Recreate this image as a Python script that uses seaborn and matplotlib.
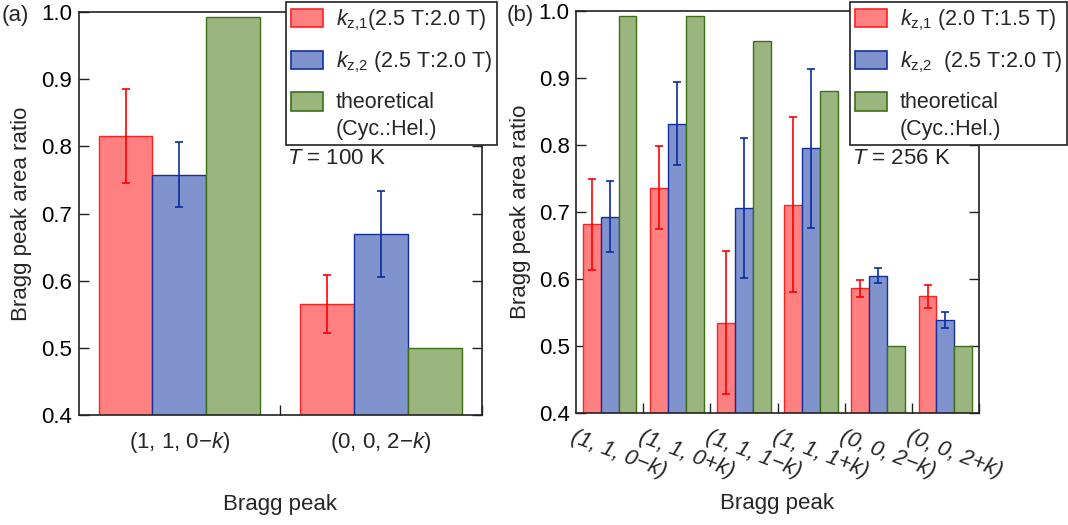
import numpy as np
import pandas as pd
import matplotlib
matplotlib.use("Agg")
import matplotlib.pyplot as plt
import matplotlib.transforms as mtransforms
from matplotlib.patches import Patch
from matplotlib.legend_handler import HandlerPatch
import seaborn as sns

# ---------------- data ----------------
peaks_a = ["(1, 1, 0−$k$)", "(0, 0, 2−$k$)"]
kz1_a = [0.815, 0.565]
kz1_a_err = [0.070, 0.043]
kz2_a = [0.758, 0.669]
kz2_a_err = [0.049, 0.064]
theo_a = [0.992, 0.500]

peaks_b = ["(1, 1, 0−k)", "(1, 1, 0+k)", "(1, 1, 1−k)",
           "(1, 1, 1+k)", "(0, 0, 2−k)", "(0, 0, 2+k)"]
kz1_b = [0.682, 0.736, 0.535, 0.711, 0.586, 0.574]
kz1_b_err = [0.068, 0.062, 0.107, 0.131, 0.013, 0.017]
kz2_b = [0.693, 0.832, 0.706, 0.795, 0.605, 0.539]
kz2_b_err = [0.053, 0.062, 0.104, 0.119, 0.011, 0.012]
theo_b = [0.992, 0.992, 0.955, 0.880, 0.500, 0.500]

series_keys = ["kz1", "kz2", "theo"]
labels_a = [r"$k_{\mathrm{z{,}1}}$(2.5 T:2.0 T)", r"$k_{\mathrm{z{,}2}}$ (2.5 T:2.0 T)",
            "theoretical\n(Cyc.:Hel.)"]
labels_b = [r"$k_{\mathrm{z{,}1}}$ (2.0 T:1.5 T)", r"$k_{\mathrm{z{,}2}}$  (2.5 T:2.0 T)",
            "theoretical\n(Cyc.:Hel.)"]
temp_a = r"$T$ = 100 K"
temp_b = r"$T$ = 256 K"
yticks = [0.4, 0.5, 0.6, 0.7, 0.8, 0.9, 1.0]

# ---------------- style ----------------
fill = {"kz1": "#ff8080", "kz2": "#8093cc", "theo": "#9bb57f"}
edge = {"kz1": "#ff2020", "kz2": "#1030a0", "theo": "#3d7015"}
errc = {"kz1": "#ff0000", "kz2": "#0a2ea0"}

sns.set_style("ticks")
plt.rcParams["font.family"] = ["Liberation Sans", "DejaVu Sans"]
plt.rcParams["mathtext.fontset"] = "custom"
plt.rcParams["mathtext.rm"] = "Liberation Sans"
plt.rcParams["mathtext.it"] = "Liberation Sans:italic"
plt.rcParams["mathtext.bf"] = "Liberation Sans:bold"
FS = 16
LFS = 15.5
LSP = 1.38

W, H = 1068, 525
fig = plt.figure(figsize=(W / 100, H / 100), dpi=100)


def frac_rect(l, r, t, b):
    return [l / W, 1 - b / H, (r - l) / W, (b - t) / H]


ax1 = fig.add_axes(frac_rect(78.5, 482, 12, 415))
ax2 = fig.add_axes(frac_rect(576, 979, 11, 413))


class ShiftedPatchHandler(HandlerPatch):
    """Patch handle aligned with the first line of a two-line label."""

    def __init__(self, shift, **kw):
        super().__init__(**kw)
        self.shift = shift

    def create_artists(self, legend, orig_handle, xdescent, ydescent,
                       width, height, fontsize, trans):
        arts = super().create_artists(legend, orig_handle, xdescent, ydescent,
                                      width, height, fontsize, trans)
        for a in arts:
            a.set_y(a.get_y() + self.shift * fontsize)
        return arts


def make_df(peaks, a, b, c):
    rows = []
    for i, p in enumerate(peaks):
        rows.append((p, "kz1", a[i]))
        rows.append((p, "kz2", b[i]))
        rows.append((p, "theo", c[i]))
    return pd.DataFrame(rows, columns=["peak", "series", "value"])


def draw(ax, peaks, k1, k1e, k2, k2e, th, labels, leg_x, temp, temp_x):
    df = make_df(peaks, k1, k2, th)
    sns.barplot(data=df, x="peak", y="value", hue="series", hue_order=series_keys,
                order=peaks, palette=fill, errorbar=None, legend=False,
                saturation=1, width=0.8, linewidth=1.0, ax=ax)
    for key, cont in zip(series_keys, ax.containers):
        for bar in cont:
            bar.set_edgecolor(edge[key])
            bar.set_linewidth(1.0)
    for key, cont, vals, errs in zip(["kz1", "kz2"], ax.containers[:2], [k1, k2], [k1e, k2e]):
        xs = [bar.get_x() + bar.get_width() / 2 for bar in cont]
        ax.errorbar(xs, vals, yerr=errs, fmt="none", ecolor=errc[key],
                    elinewidth=1.2, capsize=3, capthick=1.2, zorder=4)
    n = len(peaks)
    ax.set_xlim(-0.5, n - 0.5)
    ax.set_ylim(0.4, 1.0)
    ax.set_yticks(yticks)
    ax.set_yticklabels([f"{v:.1f}" for v in yticks])
    ax.set_xticks(np.arange(n) + 0.5, minor=True)
    ax.tick_params(axis="y", which="major", direction="in", length=7, width=1,
                   left=True, right=True, labelsize=FS, pad=4.5, colors="#222222",
                   labelcolor="black")
    ax.tick_params(axis="x", which="major", length=0, labelsize=FS)
    ax.tick_params(axis="x", which="minor", direction="in", length=7, width=1,
                   bottom=True, top=False, colors="#222222")
    for s in ax.spines.values():
        s.set_visible(True)
        s.set_linewidth(1.2)
        s.set_color("#222222")
    ax.set_xlabel("Bragg peak", fontsize=FS)
    ax.set_ylabel("Bragg peak area ratio", fontsize=FS)
    handles = [Patch(facecolor=fill[k], edgecolor=edge[k], linewidth=1.2) for k in series_keys]
    leg = ax.legend(handles, labels, loc="upper left",
                    bbox_to_anchor=(leg_x / W, 1 - 2 / H), bbox_transform=fig.transFigure,
                    borderaxespad=0, fontsize=LFS, frameon=True, fancybox=False,
                    framealpha=1, edgecolor="#222222", handlelength=1.45,
                    handleheight=0.95, handletextpad=0.6, labelspacing=0.78,
                    borderpad=0.25,
                    handler_map={handles[2]: ShiftedPatchHandler(LSP / 2)})
    for t in leg.get_texts():
        t.set_linespacing(LSP)
    leg.get_frame().set_linewidth(1.2)
    fig.text(temp_x / W, 1 - 158 / H, temp, fontsize=FS, ha="left", va="center")


draw(ax1, peaks_a, kz1_a, kz1_a_err, kz2_a, kz2_a_err, theo_a, labels_a, 286, temp_a, 287)
draw(ax2, peaks_b, kz1_b, kz1_b_err, kz2_b, kz2_b_err, theo_b, labels_b, 850, temp_b, 852)

# panel (a) tick labels
ax1.tick_params(axis="x", which="major", pad=11)
ax1.xaxis.set_label_coords(0.5, -0.196)
ax1.yaxis.set_label_coords(-0.115, 0.5)

# panel (b) tick labels rotated, italic
ax2.tick_params(axis="x", which="major", pad=10)
offset = mtransforms.ScaledTranslation(-0.336, 0, fig.dpi_scale_trans)
for lab in ax2.get_xticklabels():
    lab.set_rotation(-21)
    lab.set_rotation_mode("anchor")
    lab.set_ha("left")
    lab.set_va("top")
    lab.set_fontstyle("italic")
    lab.set_transform(lab.get_transform() + offset)
ax2.xaxis.set_label_coords(0.5, -0.2)
ax2.yaxis.set_label_coords(-0.112, 0.5)

fig.text(2 / W, 1 - 16 / H, "(a)", fontsize=FS, ha="left", va="center")
fig.text(507 / W, 1 - 16 / H, "(b)", fontsize=FS, ha="left", va="center")

fig.savefig("out.png", dpi=100)
